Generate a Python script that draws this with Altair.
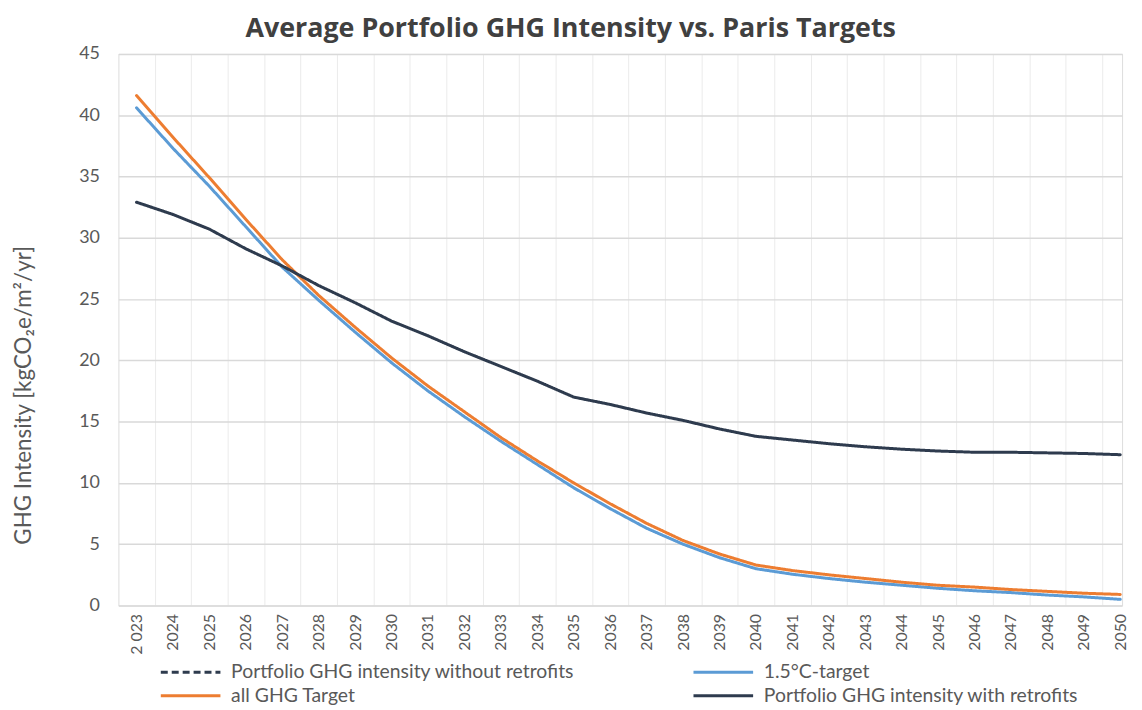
import altair as alt
import pandas as pd

years = list(range(2023, 2051))
all_ghg_target = [41.6, 38.2, 34.9, 31.5, 28.2, 25.3, 22.7, 20.2, 17.9, 15.8, 13.7, 11.8, 10.0, 8.3,
                  6.7, 5.3, 4.2, 3.3, 2.85, 2.5, 2.2, 1.9, 1.65, 1.5, 1.3, 1.15, 1.0, 0.9]
target_15 = [40.6, 37.3, 34.2, 30.9, 27.6, 24.9, 22.3, 19.8, 17.5, 15.4, 13.4, 11.5, 9.6, 7.9,
             6.3, 5.0, 3.9, 3.0, 2.55, 2.2, 1.9, 1.65, 1.4, 1.2, 1.05, 0.85, 0.7, 0.5]
with_retrofits = [32.9, 31.9, 30.7, 29.1, 27.7, 26.1, 24.7, 23.2, 22.0, 20.7, 19.5, 18.3, 17.0, 16.4,
                  15.7, 15.1, 14.4, 13.8, 13.5, 13.2, 12.95, 12.75, 12.6, 12.5, 12.5, 12.45, 12.4, 12.3]

# legend order (filled column by column: col 1 = first two, col 2 = last two)
series_names = ["Portfolio GHG intensity without retrofits", "all GHG Target",
                "1.5°C-target", "Portfolio GHG intensity with retrofits"]
series_colors = ["#2E3B4E", "#ED7D31", "#5B9BD5", "#2E3B4E"]
series_dash = [[7, 4], [1, 0], [1, 0], [1, 0]]

rows = []
for name, vals in [("1.5°C-target", target_15), ("all GHG Target", all_ghg_target),
                   ("Portfolio GHG intensity with retrofits", with_retrofits)]:
    for y, v in zip(years, vals):
        rows.append({"year": y, "value": v, "series": name})
df = pd.DataFrame(rows)

tick_values = []
for y in years:
    tick_values.append(y - 0.5)
    tick_values.append(y)
tick_values.append(years[-1] + 0.5)

FONT = "Lato"
TXT = "#595959"

x_axis = alt.Axis(
    values=tick_values,
    labelExpr="datum.value % 1 != 0 ? '' : (datum.value == 2023 ? '2 023' : toString(datum.value))",
    labelAngle=-90, labelFontSize=16, labelColor=TXT, labelFont=FONT, labelPadding=8,
    ticks=False, domain=False, title=None,
    gridColor="#EBEBEB", gridWidth=1,
    gridOpacity={"condition": {"test": "datum.value % 1 === 0", "value": 0}, "value": 1},
    labelOverlap=False,
)

y_axis = alt.Axis(
    values=list(range(0, 46, 5)), labelFontSize=18, labelColor=TXT, labelFont=FONT,
    labelPadding=19, ticks=False, domain=False,
    title="GHG Intensity [kgCO₂e/m²/yr]", titleFontSize=22.5, titleFont=FONT,
    titleColor=TXT, titleFontWeight="normal", titlePadding=43, titleY=343,
    gridColor="#D9D9D9", gridWidth=1.5,
)

chart = alt.Chart(df).mark_line(strokeWidth=3, strokeCap="round", strokeJoin="round").encode(
    x=alt.X("year:Q", scale=alt.Scale(domain=[2022.5, 2050.05], nice=False, zero=False), axis=x_axis),
    y=alt.Y("value:Q", scale=alt.Scale(domain=[0, 45], nice=False), axis=y_axis),
    color=alt.Color("series:N", scale=alt.Scale(domain=series_names, range=series_colors),
                    legend=alt.Legend(title=None, orient="none", legendX=38, legendY=612,
                                      columns=2, columnPadding=112, rowPadding=3,
                                      symbolType="M-1,0H11", symbolSize=100, symbolStrokeWidth=3,
                                      labelFontSize=19.5, labelFont=FONT, labelColor=TXT,
                                      labelOffset=56, labelLimit=500)),
    strokeDash=alt.StrokeDash("series:N", scale=alt.Scale(domain=series_names, range=series_dash),
                              legend=None),
).properties(
    width=1010, height=555,
    title=alt.Title("Average Portfolio GHG Intensity vs. Paris Targets", fontSize=27,
                    font="Open Sans", fontWeight="bold", color="#404040",
                    anchor="middle", frame="bounds", offset=2),
).configure_view(stroke=None).configure(background="white")

chart.save("out.html", embed_options={"renderer": "svg", "actions": False})
